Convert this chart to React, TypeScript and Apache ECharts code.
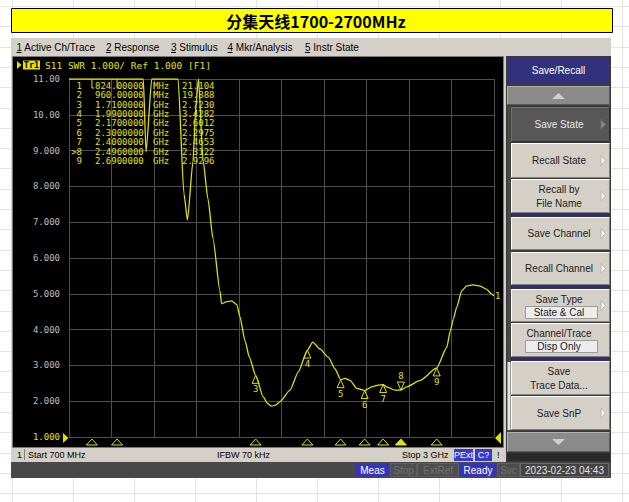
import React, { useEffect, useRef } from 'react';
import * as echarts from 'echarts';

// Trace 1 (S11, SWR format) sweep points: frequency in MHz and SWR value
const freqMHz = [700, 760, 824, 890, 960, 1030, 1102, 1117, 1148, 1200, 1250, 1290, 1322, 1341, 1371, 1387, 1401, 1425, 1452, 1479, 1517, 1526, 1553, 1580, 1608, 1625, 1652, 1676, 1710, 1751, 1775, 1797, 1820, 1842, 1896, 1941, 1990, 2019, 2058, 2103, 2140, 2170, 2194, 2221, 2257, 2300, 2338, 2374, 2400, 2419, 2464, 2496, 2528, 2600, 2690, 2744, 2764, 2780, 2798, 2825, 2852, 2886, 2923, 2959, 2986, 3000];
const swr = [23.6, 22.4, 21.104, 20.7, 19.888, 16.8, 11.9, 8.96, 11.6, 15.5, 14.8, 12.0, 7.8, 7.06, 8.7, 10.3, 11.3, 8.75, 7.65, 6.55, 5.08, 4.72, 4.78, 4.8, 4.7, 4.36, 3.7, 3.23, 2.723, 2.12, 1.93, 1.86, 1.9, 1.99, 2.31, 2.82, 3.4282, 3.65, 3.46, 3.23, 2.9, 2.6012, 2.64, 2.58, 2.36, 2.2975, 2.4, 2.45, 2.4653, 2.4, 2.31, 2.3122, 2.4, 2.58, 2.9296, 3.5, 3.97, 4.3, 4.62, 5.08, 5.22, 5.25, 5.22, 5.13, 5.0, 4.94];

// Markers
const markerIds = ['1', '2', '3', '4', '5', '6', '7', '8', '9'];
const markerFreqMHz = [824, 960, 1710, 1990, 2170, 2300, 2400, 2496, 2690];
const markerSwr = [21.104, 19.888, 2.723, 3.4282, 2.6012, 2.2975, 2.4653, 2.3122, 2.9296];
const activeMarker = '8';

// Stimulus / response settings
const startMHz = 700;
const stopMHz = 3000;
const refValue = 1;
const scalePerDiv = 1;
const yTop = 11;

const titleText = '分集天线1700-2700MHz';
const menuItems = ['Active Ch/Trace', 'Response', 'Stimulus', 'Mkr/Analysis', 'Instr State'];
const softKeyHeader = 'Save/Recall';
const softKeyLabels = [['Save State'], ['Recall State'], ['Recall by', 'File Name'], ['Save Channel'], ['Recall Channel'], ['Save Type'], ['Channel/Trace'], ['Save', 'Trace Data...'], ['Save SnP']];
const softKeyValues = ['', '', '', '', '', 'State & Cal', 'Disp Only', '', ''];
const statusItems = ['Meas', 'Stop', 'ExtRef', 'Ready', 'Svc'];
const statusActive = ['Meas', 'Ready'];
const timeStamp = '2023-02-23 04:43';

const YELLOW = '#e2e200';
const UI = '"Liberation Sans", Arial, sans-serif';
const MONO = '"DejaVu Sans Mono", "Liberation Mono", monospace';
const CJK = '"Noto Sans CJK SC", sans-serif';

type O = { size?: number; color?: string; family?: string; weight?: string; align?: string; z?: number; lh?: number };

const txt = (x: number, y: number, text: string, o: O = {}) => ({
  type: 'text', x, y, z: o.z ?? 5, silent: true,
  style: {
    text, fill: o.color ?? '#000', fontSize: o.size ?? 10, fontFamily: o.family ?? UI,
    fontWeight: o.weight ?? 'normal', align: o.align ?? 'left', verticalAlign: 'middle',
    textAlign: o.align ?? 'left', textVerticalAlign: 'middle',
    ...(o.lh ? { lineHeight: o.lh } : {}),
  },
});
const box = (x: number, y: number, w: number, h: number, fill: string, stroke: string | null = null, z = -10) => ({
  type: 'rect', z, silent: true, shape: { x, y, width: w, height: h },
  style: { fill, stroke: stroke ?? undefined, lineWidth: stroke ? 1 : 0 },
});
const ln = (x1: number, y1: number, x2: number, y2: number, stroke: string, z = -9, w = 1) => ({
  type: 'line', z, silent: true, shape: { x1, y1, x2, y2 }, style: { stroke, lineWidth: w },
});
const tri = (pts: number[][], fill: string, stroke: string | null = null, z = 4) => ({
  type: 'polygon', z, silent: true, shape: { points: pts }, style: { fill, stroke: stroke ?? undefined, lineWidth: 1 },
});
const bevel = (x: number, y: number, w: number, h: number, face: string, light: string, dark: string) => [
  box(x, y, w, h, face, null, -9),
  ln(x + 0.5, y + 0.5, x + w - 0.5, y + 0.5, light, -8),
  ln(x + 0.5, y + 0.5, x + 0.5, y + h - 0.5, light, -8),
  ln(x + 0.5, y + h - 0.5, x + w - 0.5, y + h - 0.5, dark, -8),
  ln(x + w - 0.5, y + 0.5, x + w - 0.5, y + h - 0.5, dark, -8),
];

function fmtFreq(f: number) {
  return f < 1000 ? `${f.toFixed(5)} MHz` : `${(f / 1000).toFixed(7)} GHz`;
}
function fmtStim(f: number) {
  return f < 1000 ? `${f} MHz` : `${f / 1000} GHz`;
}

function chrome() {
  const g: any[] = [];
  // worksheet cell grid behind the screenshot
  for (let x = 12; x <= 629; x += 61) g.push(ln(x + 0.5, 0, x + 0.5, 502, '#e3e3e3', -30));
  for (let y = 6; y <= 502; y += 20.3) g.push(ln(0, Math.round(y) + 0.5, 629, Math.round(y) + 0.5, '#e3e3e3', -30));

  // yellow caption bar
  g.push(box(11.5, 8.5, 601, 24, '#ffff00', '#000', -20));
  g.push(txt(316, 21, titleText, { size: 16, weight: 'bold', family: CJK, align: 'center' }));

  // instrument window
  g.push(box(11, 38, 600, 440, '#d4d0c8', null, -20));
  const menuX = [16.5, 106, 171, 227.5, 305];
  menuItems.forEach((m, i) => {
    g.push(txt(menuX[i], 47, `${i + 1} ${m}`, { size: 10 }));
    g.push(ln(menuX[i], 52.5, menuX[i] + 5, 52.5, '#000', 6));
  });

  // measurement area
  g.push(box(12.5, 56.5, 491, 391, '#000', '#7a7a7a', -15));
  g.push(tri([[17, 61], [17, 69], [21.5, 65]], YELLOW));
  g.push(box(23, 60.5, 17, 9, YELLOW, null, 3));
  g.push(txt(31.5, 65.2, 'Tr1', { size: 8.5, family: MONO, weight: 'bold', align: 'center', z: 6 }));
  g.push(txt(45, 65, `S11 SWR ${scalePerDiv.toFixed(3)}/ Ref ${refValue.toFixed(3)} [F1]`, { size: 9.5, family: MONO, color: YELLOW }));

  // reference-level pointers
  g.push(tri([[63, 433], [63, 443], [68.5, 438]], YELLOW));
  g.push(tri([[495, 438], [501, 432], [501, 444]], YELLOW));

  // marker readout table
  const cell = { size: 9, family: MONO, color: YELLOW, z: 10, lh: 9 };
  markerIds.forEach((id, i) => {
    const y = 85.7 + 9.4 * i;
    g.push(txt(82, y, (id === activeMarker ? '>' : '') + id, { ...cell, align: 'right' }));
    const [num, unit] = fmtFreq(markerFreqMHz[i]).split(' ');
    g.push(txt(95, y, num, cell));
    g.push(txt(153, y, unit, cell));
    g.push(txt(182, y, markerSwr[i].toPrecision(5), cell));
  });

  // channel status line
  g.push(box(13, 448, 490, 13, '#d4d0c8', null, -14));
  g.push(txt(17, 455, '1', { size: 9 }));
  g.push(ln(24.5, 449, 24.5, 460, '#808080', 6));
  g.push(txt(28, 455, `Start ${fmtStim(startMHz)}`, { size: 9 }));
  g.push(txt(217, 455, 'IFBW 70 kHz', { size: 9 }));
  g.push(txt(402, 455, `Stop ${fmtStim(stopMHz)}`, { size: 9 }));
  g.push(box(454, 449, 19, 12, '#3838d0', null, 2));
  g.push(txt(463.5, 455, 'PExt', { size: 9, color: '#fff', align: 'center' }));
  g.push(box(475, 449, 17, 12, '#3838d0', null, 2));
  g.push(txt(483.5, 455, 'C?', { size: 9, color: '#fff', align: 'center' }));
  g.push(txt(497, 455, '!', { size: 9 }));

  // soft key panel
  g.push(box(506, 56, 105, 406, '#3a3a3a', null, -14));
  g.push(box(507, 57, 103, 27, '#32327c', null, -9));
  g.push(txt(558.5, 70.5, softKeyHeader, { size: 10, color: '#fff', align: 'center' }));
  g.push(...bevel(507, 86, 103, 19, '#8a8a8a', '#b0b0b0', '#5a5a5a'));
  g.push(tri([[552, 99], [565, 99], [558.5, 93]], '#d0d0d0'));
  g.push(box(507.5, 106, 3, 326, '#4a4a4a', null, -9));
  g.push(box(507.5, 362, 3, 68, '#e6e6e6', null, -8));

  const keyTop = [107, 143, 179, 217, 252, 289, 323, 361, 396];
  const keyH = [35, 35, 34, 33, 33, 33, 34, 34, 34];
  const keyArrow = [true, true, true, true, true, true, false, false, true];
  softKeyLabels.forEach((lines, i) => {
    const y = keyTop[i];
    const h = keyH[i];
    const dark = i === 0;
    g.push(...bevel(511, y, 99, h, dark ? '#575757' : '#d4d0c8', dark ? '#707070' : '#ffffff', dark ? '#303030' : '#808080'));
    const color = dark ? '#e8e8e8' : '#1a1a1a';
    const cx = 559;
    if (softKeyValues[i]) {
      g.push(txt(cx, y + 10, lines[0], { size: 10, color, align: 'center' }));
      g.push(box(525.5, y + 17.5, 72, 12, '#ececec', '#9a9a9a', -7));
      g.push(txt(cx, y + 23.5, softKeyValues[i], { size: 10, color, align: 'center' }));
    } else if (lines.length === 2) {
      g.push(txt(cx, y + h / 2 - 7, lines[0], { size: 10, color, align: 'center' }));
      g.push(txt(cx, y + h / 2 + 7, lines[1], { size: 10, color, align: 'center' }));
    } else {
      g.push(txt(cx, y + h / 2, lines[0], { size: 10, color, align: 'center' }));
    }
    if (keyArrow[i]) {
      const cy = y + h / 2;
      g.push(tri([[601, cy - 5], [601, cy + 5], [605.5, cy]], dark ? '#8a8a8a' : '#f4f4f4', dark ? '#6a6a6a' : '#b8b8b8'));
    }
  });
  // group separators
  [213.5, 285.5, 357.5].forEach((y) => g.push(box(511, y, 99, 3, '#2c2c6c', null, -7)));
  g.push(...bevel(507, 432, 103, 20, '#8a8a8a', '#b0b0b0', '#5a5a5a'));
  g.push(tri([[552, 439], [565, 439], [558.5, 445]], '#d0d0d0'));
  g.push(box(507, 453, 103, 8, '#2a2a2a', null, -8));

  // instrument status bar
  g.push(box(11, 462, 600, 16, '#484848', null, -14));
  const sx = [355, 390, 417, 459, 497];
  const sw = [34, 26, 41, 37, 22];
  statusItems.forEach((s, i) => {
    const on = statusActive.includes(s);
    g.push(box(sx[i] + 0.5, 463.5, sw[i], 13, on ? '#3434b8' : '#4e4e4e', on ? null : '#5e5e5e', -8));
    g.push(txt(sx[i] + sw[i] / 2 + 0.5, 470.5, s, { size: 10, color: on ? '#ffffff' : '#727272', align: 'center' }));
  });
  g.push(box(520.5, 463.5, 88, 13, '#444444', '#6a6a6a', -8));
  g.push(txt(564.5, 470.5, timeStamp, { size: 10, color: '#e2e2e2', align: 'center' }));
  return g;
}

function buildOption(): any {
  return {
    animation: false,
    backgroundColor: '#ffffff',
    graphic: { elements: chrome() },
    grid: { left: 69, top: 79, width: 425, height: 358, containLabel: false },
    xAxis: [
      { type: 'value', min: startMHz, max: stopMHz, show: false },
      {
        type: 'value', min: 0, max: 10, interval: 1,
        axisLine: { show: false }, axisTick: { show: false }, axisLabel: { show: false },
        splitLine: { show: true, lineStyle: { color: '#4e4e4e', width: 1 } }, z: 1,
      },
    ],
    yAxis: {
      type: 'value', min: refValue, max: yTop, interval: scalePerDiv,
      axisLine: { show: false }, axisTick: { show: false },
      axisLabel: {
        margin: 9, fontSize: 9, fontFamily: MONO,
        formatter: (v: number) => (v >= 10 ? v.toFixed(2) : v.toFixed(3)),
        color: (v: any) => (Number(v) === refValue ? YELLOW : '#bdbdbd'),
      },
      splitLine: { show: true, lineStyle: { color: '#4e4e4e', width: 1 } }, z: 1,
    },
    series: [
      {
        type: 'line', xAxisIndex: 0, yAxisIndex: 0, z: 4, silent: true,
        data: freqMHz.map((f, i) => [f, Math.min(swr[i], yTop)]),
        symbol: 'none', smooth: 0.2, smoothMonotone: 'x', clip: true,
        lineStyle: { color: YELLOW, width: 1.3 },
        endLabel: { show: true, formatter: '1', color: YELLOW, fontFamily: MONO, fontSize: 9, distance: 1 },
      },
      {
        type: 'custom', xAxisIndex: 0, yAxisIndex: 0, z: 6, silent: true,
        data: markerFreqMHz.map((f, i) => [f, markerSwr[i]]),
        renderItem: (params: any, api: any) => {
          const cs = params.coordSys;
          const id = markerIds[params.dataIndex];
          const f = api.value(0);
          const v = api.value(1);
          const active = id === activeMarker;
          const top = cs.y;
          const bottom = cs.y + cs.height;
          const px = api.coord([f, refValue])[0];
          const mono = { fill: YELLOW, fontSize: 9, fontFamily: MONO, align: 'center', verticalAlign: 'middle', textAlign: 'center', textVerticalAlign: 'middle' };
          const children: any[] = [
            {
              type: 'polygon',
              shape: { points: [[px, bottom + 2], [px - 5.5, bottom + 8], [px + 5.5, bottom + 8]] },
              style: { fill: active ? YELLOW : 'none', stroke: YELLOW, lineWidth: 1 },
            },
          ];
          if (v > yTop) {
            children.push({ type: 'line', shape: { x1: px, y1: top, x2: px, y2: top + 9 }, style: { stroke: YELLOW, lineWidth: 1 } });
            children.push({ type: 'line', shape: { x1: px, y1: top + 9, x2: px + 2, y2: top + 9 }, style: { stroke: YELLOW, lineWidth: 1 } });
          } else {
            const py = api.coord([f, v])[1];
            if (active) {
              children.push({ type: 'polygon', shape: { points: [[px, py], [px - 3.5, py - 8], [px + 3.5, py - 8]] }, style: { fill: 'none', stroke: YELLOW, lineWidth: 1 } });
              children.push({ type: 'text', style: { text: id, x: px, y: py - 14, ...mono } });
            } else {
              children.push({ type: 'polygon', shape: { points: [[px, py], [px - 3.5, py + 8], [px + 3.5, py + 8]] }, style: { fill: 'none', stroke: YELLOW, lineWidth: 1 } });
              children.push({ type: 'text', style: { text: id, x: px, y: py + 14, ...mono } });
            }
          }
          return { type: 'group', children };
        },
      },
    ],
  };
}

export default function App() {
  const ref = useRef<HTMLDivElement>(null);
  useEffect(() => {
    const chart = echarts.init(ref.current as HTMLDivElement, null, { renderer: 'svg' });
    chart.setOption(buildOption());
    return () => chart.dispose();
  }, []);
  return <div ref={ref} style={{ position: 'absolute', left: 0, top: 0, width: 629, height: 502 }} />;
}
